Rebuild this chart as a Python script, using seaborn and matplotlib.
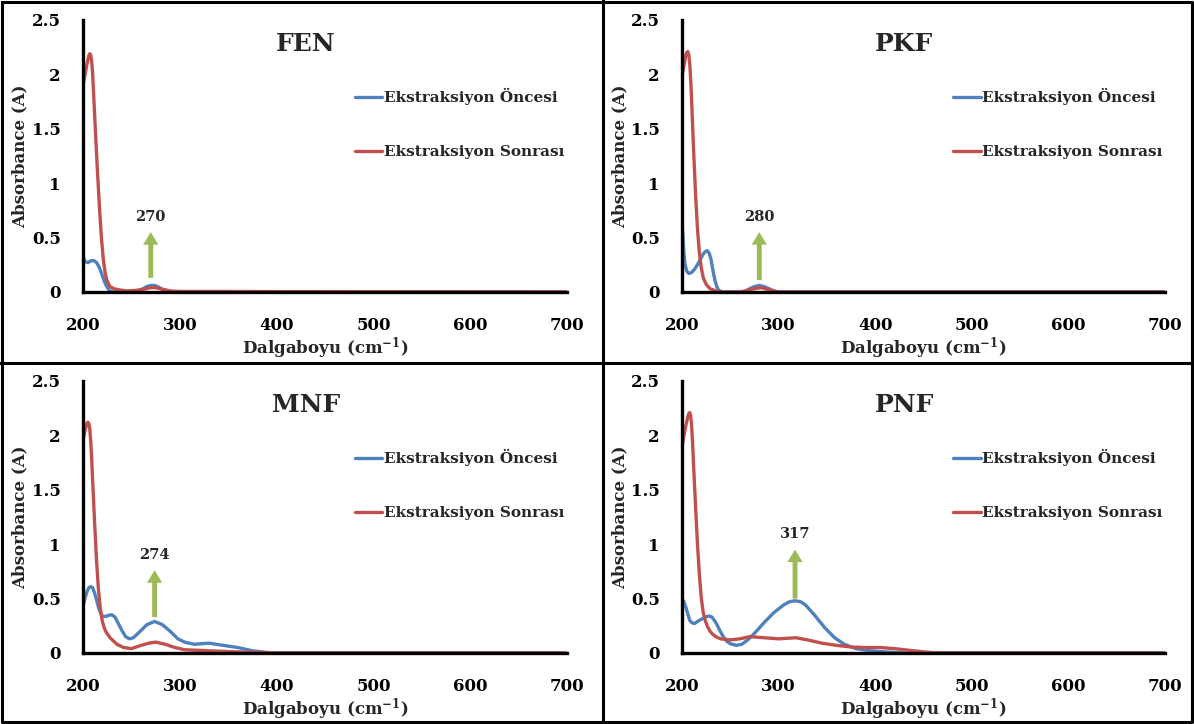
import matplotlib.pyplot as plt
import pandas as pd
import seaborn as sns
from matplotlib.lines import Line2D

# --- data ----------------------------------------------------------------
fen_before_x = [200, 202, 205, 208, 210, 212, 214, 216, 218, 220, 222, 224, 226, 228, 230, 255, 262, 266, 270, 274, 277, 281, 285, 290, 295, 700]
fen_before_y = [0.33, 0.28, 0.27, 0.285, 0.29, 0.285, 0.27, 0.24, 0.20, 0.15, 0.10, 0.06, 0.03, 0.01, 0.0, 0.0, 0.03, 0.05, 0.06, 0.06, 0.05, 0.03, 0.01, 0.003, 0.0, 0.0]
fen_after_x = [200, 202, 204, 206, 207, 208, 209, 210, 211, 213, 215, 217, 219, 221, 223, 225, 228, 232, 237, 245, 255, 265, 270, 275, 280, 290, 300, 700]
fen_after_y = [1.90, 1.99, 2.09, 2.17, 2.19, 2.18, 2.12, 2.00, 1.82, 1.45, 1.10, 0.78, 0.50, 0.30, 0.17, 0.10, 0.05, 0.03, 0.02, 0.01, 0.015, 0.03, 0.04, 0.04, 0.03, 0.01, 0.005, 0.0]

pkf_before_x = [200, 201, 202, 203, 205, 207, 210, 213, 216, 219, 222, 224, 226, 228, 230, 232, 234, 236, 238, 242, 262, 266, 270, 275, 280, 285, 290, 295, 300, 700]
pkf_before_y = [0.65, 0.50, 0.36, 0.26, 0.19, 0.17, 0.18, 0.21, 0.25, 0.30, 0.35, 0.37, 0.38, 0.36, 0.30, 0.20, 0.11, 0.05, 0.015, 0.0, 0.0, 0.01, 0.03, 0.05, 0.06, 0.05, 0.03, 0.01, 0.0, 0.0]
pkf_after_x = [200, 202, 203, 204, 205, 206, 207, 208, 209, 210, 212, 214, 216, 218, 220, 222, 225, 229, 235, 240, 260, 270, 275, 282, 290, 300, 700]
pkf_after_y = [1.99, 2.08, 2.13, 2.18, 2.20, 2.21, 2.18, 2.10, 1.95, 1.75, 1.30, 0.90, 0.58, 0.36, 0.22, 0.13, 0.07, 0.03, 0.01, 0.0, 0.0, 0.02, 0.03, 0.04, 0.02, 0.0, 0.0]

mnf_before_x = [200, 202, 204, 206, 208, 210, 212, 214, 216, 218, 220, 222, 225, 228, 230, 233, 236, 240, 244, 248, 252, 258, 266, 274, 282,
                290, 298, 305, 315, 330, 345, 360, 375, 390, 400, 700]
mnf_before_y = [0.43, 0.50, 0.56, 0.60, 0.61, 0.60, 0.55, 0.49, 0.42, 0.37, 0.34, 0.335, 0.34, 0.35, 0.35, 0.33, 0.28, 0.21, 0.15, 0.13, 0.14, 0.19, 0.26, 0.29, 0.26,
                0.20, 0.13, 0.10, 0.08, 0.09, 0.07, 0.05, 0.02, 0.005, 0.0, 0.0]
mnf_after_x = [200, 202, 203, 204, 205, 206, 207, 208, 209, 210, 212, 214, 216, 218, 220, 222, 224, 228, 235, 242, 250, 260, 268, 275, 285, 295, 305, 330, 360, 400, 700]
mnf_after_y = [1.95, 2.04, 2.08, 2.11, 2.12, 2.11, 2.06, 1.95, 1.78, 1.58, 1.20, 0.85, 0.58, 0.40, 0.29, 0.23, 0.19, 0.14, 0.08, 0.05, 0.04, 0.07, 0.09, 0.10, 0.08, 0.05, 0.03, 0.02, 0.01, 0.0, 0.0]

pnf_before_x = [200, 202, 204, 206, 208, 210, 213, 216, 220, 224, 228, 231, 235, 239, 242, 246, 250, 256, 262, 268, 275, 285, 295, 305, 311, 317, 323, 328, 333, 338, 348, 358,
                368, 380, 395, 410, 430, 700]
pnf_before_y = [0.50, 0.47, 0.42, 0.36, 0.30, 0.28, 0.27, 0.29, 0.31, 0.33, 0.34, 0.33, 0.28, 0.21, 0.16, 0.11, 0.085, 0.07, 0.08, 0.12, 0.18, 0.28, 0.37, 0.44, 0.47, 0.48, 0.47, 0.44, 0.39, 0.34, 0.23, 0.14,
                0.08, 0.04, 0.02, 0.01, 0.0, 0.0]
pnf_after_x = [200, 202, 204, 206, 207, 208, 209, 210, 211, 212, 214, 216, 218, 220, 222, 224, 226, 229, 232, 236, 240, 250, 260, 270, 285, 300, 318, 330, 345, 360,
               375, 390, 405, 420, 435, 450, 465, 700]
pnf_after_y = [1.90, 2.00, 2.09, 2.17, 2.20, 2.21, 2.18, 2.08, 1.92, 1.72, 1.35, 1.00, 0.72, 0.50, 0.37, 0.30, 0.25, 0.20, 0.17, 0.145, 0.13, 0.12, 0.13, 0.15, 0.14, 0.13, 0.14, 0.12, 0.09, 0.07,
               0.055, 0.05, 0.05, 0.04, 0.025, 0.01, 0.0, 0.0]

panel_names = ["FEN", "PKF", "MNF", "PNF"]
peak_labels = [270, 280, 274, 317]
arrow_tail = [0.13, 0.11, 0.33, 0.50]
arrow_head = [0.55, 0.55, 0.76, 0.95]
series_names = ["Ekstraksiyon Öncesi", "Ekstraksiyon Sonrası"]

curves = {
    "FEN": [(fen_before_x, fen_before_y), (fen_after_x, fen_after_y)],
    "PKF": [(pkf_before_x, pkf_before_y), (pkf_after_x, pkf_after_y)],
    "MNF": [(mnf_before_x, mnf_before_y), (mnf_after_x, mnf_after_y)],
    "PNF": [(pnf_before_x, pnf_before_y), (pnf_after_x, pnf_after_y)],
}

sns.set_style("white")
plt.rcParams["font.family"] = ["DejaVu Serif"]
plt.rcParams["font.weight"] = "bold"
plt.rcParams["mathtext.fontset"] = "custom"
plt.rcParams["mathtext.rm"] = "DejaVu Serif:bold"
plt.rcParams["mathtext.bf"] = "DejaVu Serif:bold"
plt.rcParams["mathtext.default"] = "bf"

palette = {series_names[0]: "#4F81BD", series_names[1]: "#C0504D"}

fig = plt.figure(figsize=(11.94, 7.24), dpi=100)
boxes = [
    [0.0695, 0.5967, 0.4054, 0.3757],
    [0.5712, 0.5967, 0.4045, 0.3757],
    [0.0695, 0.0981, 0.4054, 0.3757],
    [0.5712, 0.0981, 0.4045, 0.3757],
]

for i, name in enumerate(panel_names):
    ax = fig.add_axes(boxes[i])
    frames = []
    for s, (xs, ys) in zip(series_names, curves[name]):
        frames.append(pd.DataFrame({"wl": xs, "abs": ys, "series": s}))
    df = pd.concat(frames, ignore_index=True)
    sns.lineplot(data=df, x="wl", y="abs", hue="series", palette=palette,
                 linewidth=2.4, ax=ax, sort=False, estimator=None)

    ax.set_xlim(200, 700)
    ax.set_ylim(0, 2.5)
    ax.set_xticks([200, 300, 400, 500, 600, 700])
    ax.set_yticks([0, 0.5, 1, 1.5, 2, 2.5])
    ax.set_yticklabels(["0", "0.5", "1", "1.5", "2", "2.5"])
    for sp in ["top", "right"]:
        ax.spines[sp].set_visible(False)
    for sp in ["left", "bottom"]:
        ax.spines[sp].set_linewidth(2.4)
        ax.spines[sp].set_color("black")
    ax.tick_params(axis="x", direction="out", length=4, width=3, pad=14, labelsize=12, colors="black")
    ax.tick_params(axis="y", direction="out", length=4, width=2, pad=12, labelsize=12, colors="black")
    ax.set_xlabel("Dalgaboyu (cm$^{-1}$)", fontsize=12, fontweight="bold", labelpad=1)
    ax.set_ylabel("Absorbance (A)", fontsize=12, fontweight="bold", labelpad=2)

    ax.text(0.46, 0.91, name, transform=ax.transAxes, ha="center", va="center",
            fontsize=18, fontweight="bold")

    px = peak_labels[i]
    ax.annotate("", xy=(px, arrow_head[i]), xytext=(px, arrow_tail[i]),
                arrowprops=dict(width=3.5, headwidth=11, headlength=9, color="#9BBB59", lw=0))
    ax.text(px, arrow_head[i] + 0.14, str(px), ha="center", va="center", fontsize=10.5, fontweight="bold")

    ax.legend(loc="upper left", bbox_to_anchor=(0.533, 0.80), frameon=False, title=None,
              fontsize=11, handlelength=1.8, handletextpad=0.1, labelspacing=2.6)

# panel frames
lw = 2.2
fig.add_artist(Line2D([0.002, 0.998, 0.998, 0.002, 0.002], [0.997, 0.997, 0.003, 0.003, 0.997],
                      transform=fig.transFigure, color="black", lw=lw))
fig.add_artist(Line2D([0.505, 0.505], [0.0, 1.0], transform=fig.transFigure, color="black", lw=lw))
fig.add_artist(Line2D([0.0, 1.0], [0.499, 0.499], transform=fig.transFigure, color="black", lw=lw))

plt.savefig("out.png", dpi=100)
